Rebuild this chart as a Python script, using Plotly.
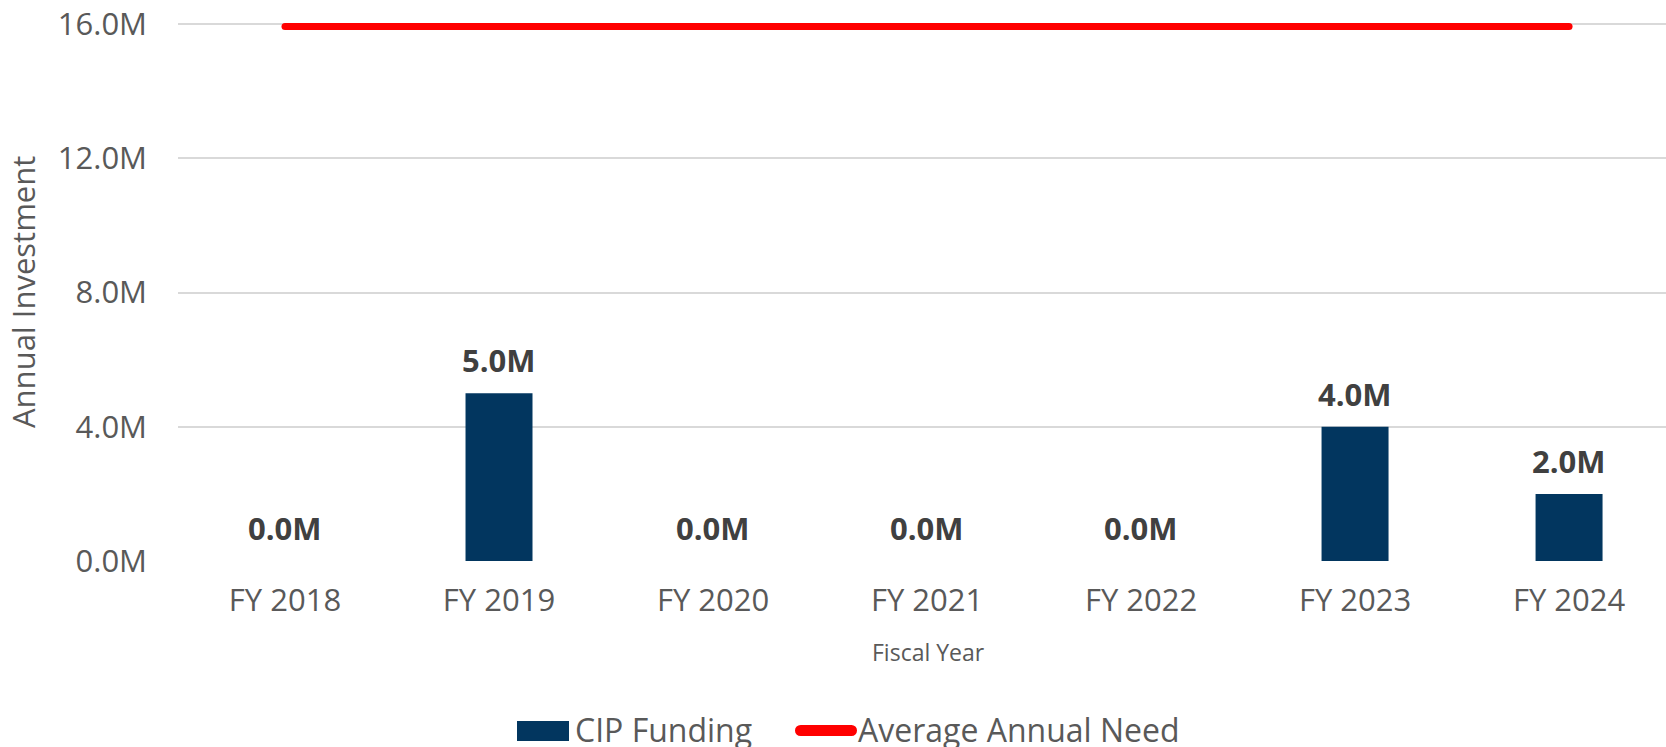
import plotly.graph_objects as go

# ---- data -------------------------------------------------------------
fiscal_years = ["FY 2018", "FY 2019", "FY 2020", "FY 2021", "FY 2022", "FY 2023", "FY 2024"]
cip_funding = [0.0, 5.0e6, 0.0, 0.0, 0.0, 4.0e6, 2.0e6]
average_annual_need = [15.93e6, 15.93e6, 15.93e6, 15.93e6, 15.93e6, 15.93e6, 15.93e6]
y_tick_values = [0, 4.0e6, 8.0e6, 12.0e6, 16.0e6]
y_tick_labels = ["0.0M", "4.0M", "8.0M", "12.0M", "16.0M"]
series_names = ["CIP Funding", "Average Annual Need"]

# ---- style / layout ---------------------------------------------------
W, H = 1666, 747
M_L, M_R, M_T, M_B = 178, 0, 14, 186
PLOT_W = W - M_L - M_R
PLOT_H = H - M_T - M_B
BAR_COLOR = "#02365f"
NEED_COLOR = "#ff0000"
GRID_COLOR = "#d9d9d9"
AXIS_TEXT = "#595959"
LABEL_TEXT = "#404040"
FONT = "Open Sans"


def px_x(px):
    """Pixel column -> paper x."""
    return (px - M_L) / PLOT_W


def px_y(py):
    """Pixel row (from top) -> paper y."""
    return (H - M_B - py) / PLOT_H


fig = go.Figure()

fig.add_trace(go.Bar(
    x=fiscal_years,
    y=cip_funding,
    name=series_names[0],
    marker=dict(color=BAR_COLOR, line=dict(width=0)),
    showlegend=False,
))

fig.add_trace(go.Scatter(
    x=fiscal_years,
    y=average_annual_need,
    name=series_names[1],
    mode="lines+markers",
    line=dict(color=NEED_COLOR, width=7),
    marker=dict(color=NEED_COLOR, size=7, line=dict(width=0)),
    showlegend=False,
))

annotations = []

# value labels above each bar
for fy, v in zip(fiscal_years, cip_funding):
    annotations.append(dict(
        x=fy, y=v, xref="x", yref="y",
        text=f"{v / 1e6:.1f}M",
        showarrow=False,
        yanchor="bottom", xanchor="center",
        yshift=10,
        font=dict(family=FONT, size=31, color=LABEL_TEXT, weight="bold"),
    ))

# axis titles
annotations.append(dict(
    x=px_x(23), y=px_y(292), xref="paper", yref="paper",
    text="Annual Investment", textangle=-90, showarrow=False,
    xanchor="center", yanchor="middle",
    font=dict(family=FONT, size=31, color=AXIS_TEXT),
))
annotations.append(dict(
    x=px_x(928), y=px_y(652), xref="paper", yref="paper",
    text="Fiscal Year", showarrow=False,
    xanchor="center", yanchor="middle",
    font=dict(family=FONT, size=23, color=AXIS_TEXT),
))

# legend entries
LEG_Y = 729
annotations.append(dict(
    x=px_x(573), y=px_y(LEG_Y), xref="paper", yref="paper",
    text=series_names[0], showarrow=False,
    xanchor="left", yanchor="middle",
    font=dict(family=FONT, size=32, color=AXIS_TEXT),
))
annotations.append(dict(
    x=px_x(856), y=px_y(LEG_Y), xref="paper", yref="paper",
    text=series_names[1], showarrow=False,
    xanchor="left", yanchor="middle",
    font=dict(family=FONT, size=32, color=AXIS_TEXT),
))

shapes = [
    # bar swatch
    dict(type="rect", xref="paper", yref="paper",
         x0=px_x(517), x1=px_x(569), y0=px_y(741), y1=px_y(721),
         fillcolor=BAR_COLOR, line=dict(width=0)),
    # line swatch with rounded ends
    dict(type="line", xref="paper", yref="paper",
         x0=px_x(801), x1=px_x(852), y0=px_y(730.5), y1=px_y(730.5),
         line=dict(color=NEED_COLOR, width=11)),
    dict(type="circle", xref="paper", yref="paper",
         x0=px_x(795), x1=px_x(806), y0=px_y(736), y1=px_y(725),
         fillcolor=NEED_COLOR, line=dict(width=0)),
    dict(type="circle", xref="paper", yref="paper",
         x0=px_x(846), x1=px_x(857), y0=px_y(736), y1=px_y(725),
         fillcolor=NEED_COLOR, line=dict(width=0)),
]

fig.update_layout(
    width=W, height=H,
    margin=dict(l=M_L, r=M_R, t=M_T, b=M_B, pad=0),
    paper_bgcolor="white",
    plot_bgcolor="white",
    bargap=0.687,
    showlegend=False,
    font=dict(family=FONT, color=AXIS_TEXT),
    annotations=annotations,
    shapes=shapes,
    xaxis=dict(
        type="category",
        range=[-0.5, 6.453],
        showgrid=False, zeroline=False, showline=False,
        ticks="", tickfont=dict(family=FONT, size=31, color=AXIS_TEXT),
        ticklabelstandoff=18,
        fixedrange=True,
    ),
    yaxis=dict(
        range=[0, 16.3e6],
        tickvals=y_tick_values, ticktext=y_tick_labels,
        showgrid=True, gridcolor=GRID_COLOR, gridwidth=1.5,
        zeroline=False, showline=False,
        ticks="", tickfont=dict(family=FONT, size=31, color=AXIS_TEXT),
        ticklabelstandoff=30,
        fixedrange=True,
    ),
)

fig.write_html("out.html")
